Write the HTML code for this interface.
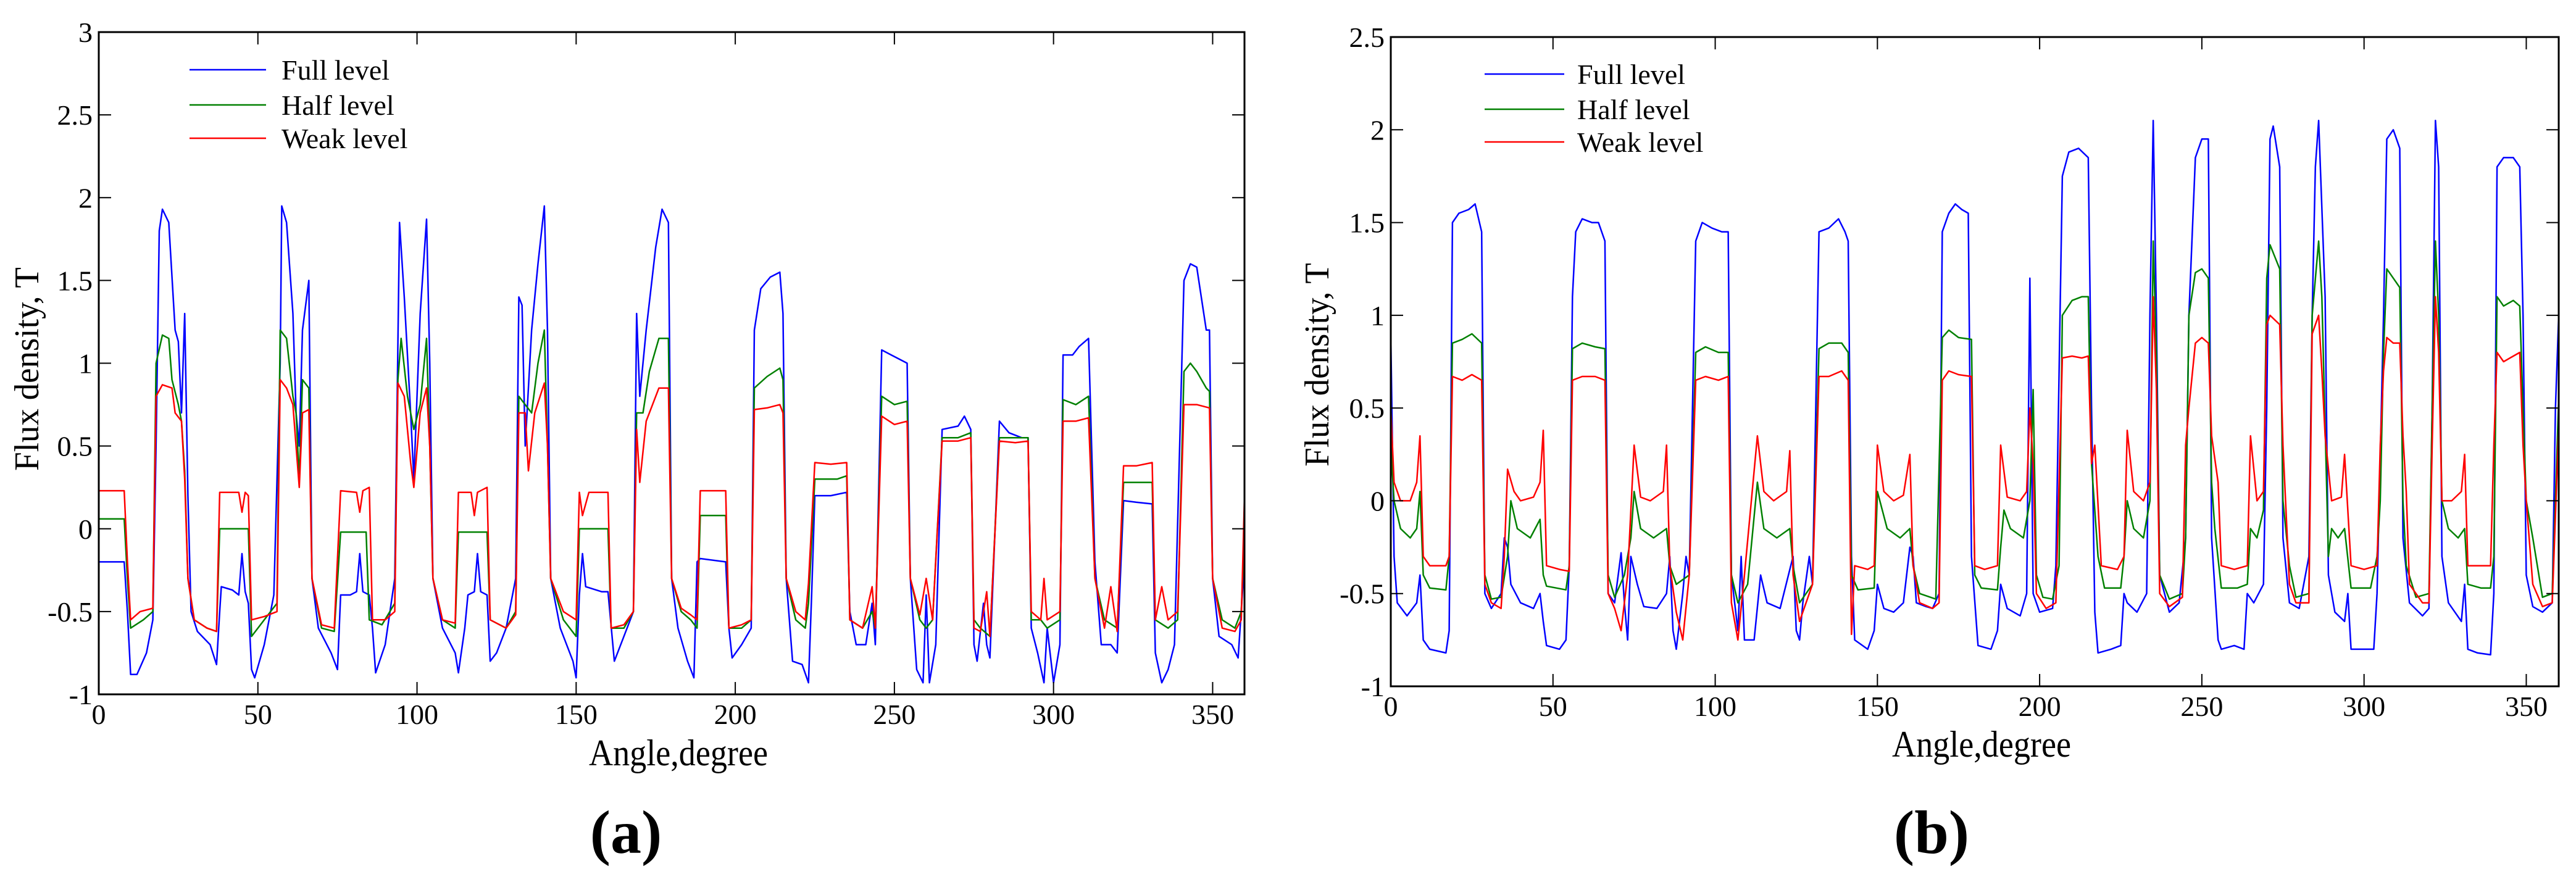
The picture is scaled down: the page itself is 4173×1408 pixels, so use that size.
<!DOCTYPE html>
<html><head><meta charset="utf-8"><style>
html,body{margin:0;padding:0;background:#fff;}
svg{display:block;}
text{font-family:"Liberation Serif","DejaVu Serif",serif;fill:#000;}
</style></head><body>
<svg id="fig" width="4173" height="1408" viewBox="0 0 4173 1408" xmlns="http://www.w3.org/2000/svg" font-family="Liberation Serif, serif">
<rect width="4173" height="1408" fill="#fff"/>
<g id="chartA"></g>
<g id="chartB"></g>
</svg>
<script>
const legendLabels = ["Full level","Half level","Weak level"];
const seriesColors = ["#0000ff","#008000","#ff0000"];
const xTicks = [0,50,100,150,200,250,300,350];
const yTicksA = [-1,-0.5,0,0.5,1,1.5,2,2.5,3];
const yTickLabelsA = ["-1","-0.5","0","0.5","1","1.5","2","2.5","3"];
const yTicksB = [-1,-0.5,0,0.5,1,1.5,2,2.5];
const yTickLabelsB = ["-1","-0.5","0","0.5","1","1.5","2","2.5"];

const fullA = [[0,-0.2],[8,-0.2],[9,-0.5],[10,-0.88],[12,-0.88],[15,-0.75],[17,-0.55],[18,0.5],[19,1.8],[20,1.93],[22,1.85],[24,1.2],[25,1.13],[26,0.7],[27,1.3],[28,0.2],[29,-0.5],[31,-0.62],[35,-0.7],[37,-0.82],[38,-0.5],[38.5,-0.35],[42,-0.37],[44,-0.4],[45,-0.15],[46,-0.38],[47,-0.45],[48,-0.85],[49,-0.9],[52,-0.7],[55,-0.4],[57,1.0],[57.5,1.95],[59,1.85],[61,1.3],[62,0.7],[63,0.5],[64,1.2],[66,1.5],[67,-0.3],[69,-0.6],[73,-0.75],[75,-0.85],[76,-0.4],[79,-0.4],[81,-0.38],[82,-0.15],[83,-0.38],[85,-0.4],[86,-0.6],[87,-0.87],[90,-0.7],[93,-0.3],[94.5,1.85],[96,1.4],[98,0.7],[99,0.3],[101,1.3],[103,1.87],[104,1.0],[105,-0.3],[108,-0.6],[112,-0.75],[113,-0.87],[115,-0.6],[116,-0.4],[118,-0.38],[119,-0.15],[120,-0.38],[122,-0.4],[123,-0.8],[125,-0.75],[128,-0.6],[131,-0.3],[132,1.4],[133,1.35],[134,0.5],[136,1.2],[138,1.6],[140,1.95],[141,1.2],[142,-0.3],[145,-0.6],[149,-0.8],[150,-0.9],[151,-0.4],[152,-0.15],[153,-0.35],[158,-0.38],[160,-0.38],[162,-0.8],[165,-0.65],[168,-0.5],[169,1.3],[170,0.8],[172,1.2],[175,1.7],[177,1.93],[179,1.85],[180,-0.3],[182,-0.6],[185,-0.8],[187,-0.9],[188,-0.2],[189,-0.18],[197,-0.2],[198,-0.6],[199,-0.78],[202,-0.7],[205,-0.6],[206,1.2],[208,1.45],[211,1.52],[214,1.55],[215,1.3],[216,-0.3],[218,-0.8],[221,-0.82],[223,-0.93],[224,-0.4],[225,0.2],[230,0.2],[235,0.22],[236,-0.5],[238,-0.7],[241,-0.7],[243,-0.45],[244,-0.7],[246,1.08],[249,1.05],[252,1.02],[254,1.0],[255,-0.3],[257,-0.85],[259,-0.93],[260,-0.4],[261,-0.93],[263,-0.7],[265,0.6],[270,0.62],[272,0.68],[274,0.6],[275,-0.7],[276,-0.8],[278,-0.45],[279,-0.7],[280,-0.78],[283,0.65],[286,0.58],[290,0.55],[292,0.55],[293,-0.6],[295,-0.75],[297,-0.93],[298,-0.6],[300,-0.93],[302,-0.7],[303,1.05],[306,1.05],[308,1.1],[311,1.15],[313,-0.2],[315,-0.7],[318,-0.7],[320,-0.75],[322,0.17],[326,0.16],[331,0.15],[332,-0.75],[334,-0.93],[336,-0.85],[338,-0.7],[341,1.5],[343,1.6],[345,1.58],[348,1.2],[349,1.2],[350,-0.3],[352,-0.65],[356,-0.7],[358,-0.78],[360,-0.2]];
const halfA = [[0,0.06],[8,0.06],[9,-0.3],[10,-0.6],[14,-0.55],[17,-0.5],[18,1.0],[20,1.17],[22,1.15],[23,0.9],[25,0.75],[26,0.65],[27,0.35],[28,-0.3],[30,-0.55],[34,-0.6],[37,-0.62],[38,0.0],[42,0.0],[47,0.0],[48,-0.65],[52,-0.55],[56,-0.45],[57,1.2],[59,1.15],[61,0.8],[62,0.7],[63,0.3],[64,0.9],[66,0.85],[67,-0.3],[70,-0.6],[74,-0.62],[76,-0.02],[84,-0.02],[85,-0.55],[89,-0.58],[93,-0.45],[94,0.9],[95,1.15],[97,0.8],[99,0.6],[101,0.75],[103,1.15],[104,0.5],[105,-0.3],[108,-0.55],[112,-0.6],[113,-0.02],[118,-0.02],[122,-0.02],[123,-0.55],[128,-0.6],[131,-0.5],[132,0.8],[134,0.75],[136,0.7],[138,1.0],[140,1.2],[141,0.5],[142,-0.3],[146,-0.55],[150,-0.65],[151,0.0],[160,0.0],[161,-0.6],[165,-0.6],[168,-0.5],[169,0.7],[171,0.7],[173,0.95],[176,1.15],[179,1.15],[180,-0.3],[183,-0.5],[186,-0.55],[188,-0.6],[189,0.08],[197,0.08],[198,-0.6],[202,-0.6],[205,-0.55],[206,0.85],[210,0.92],[214,0.97],[215,0.9],[216,-0.3],[219,-0.55],[222,-0.6],[223,-0.45],[225,0.3],[232,0.3],[235,0.32],[236,-0.55],[240,-0.6],[243,-0.5],[244,-0.6],[246,0.8],[250,0.75],[254,0.77],[255,-0.3],[258,-0.55],[260,-0.6],[262,-0.55],[265,0.55],[270,0.55],[274,0.58],[275,-0.55],[277,-0.6],[280,-0.65],[283,0.55],[288,0.55],[292,0.55],[293,-0.55],[296,-0.55],[298,-0.6],[302,-0.55],[303,0.78],[307,0.75],[311,0.8],[313,-0.3],[316,-0.55],[320,-0.6],[322,0.28],[326,0.28],[331,0.28],[332,-0.55],[336,-0.6],[339,-0.55],[341,0.95],[343,1.0],[345,0.95],[348,0.85],[349,0.83],[350,-0.3],[353,-0.55],[357,-0.6],[359,-0.5],[360,0.0]];
const weakA = [[0,0.23],[8,0.23],[9,-0.2],[10,-0.55],[13,-0.5],[17,-0.48],[18,0.8],[20,0.87],[23,0.85],[24,0.7],[26,0.65],[27,0.3],[28,-0.3],[30,-0.55],[34,-0.6],[37,-0.62],[38,0.22],[44,0.22],[45,0.1],[46,0.22],[47,0.2],[48,-0.55],[52,-0.53],[56,-0.5],[57,0.9],[59,0.85],[61,0.75],[62,0.5],[63,0.25],[64,0.7],[66,0.72],[67,-0.3],[70,-0.58],[74,-0.6],[76,0.23],[81,0.22],[82,0.1],[83,0.23],[85,0.25],[86,-0.55],[90,-0.55],[93,-0.5],[94,0.88],[96,0.8],[98,0.4],[99,0.25],[101,0.7],[103,0.85],[104,0.5],[105,-0.3],[108,-0.55],[112,-0.57],[113,0.22],[117,0.22],[118,0.08],[119,0.22],[122,0.25],[123,-0.55],[128,-0.6],[131,-0.52],[132,0.7],[134,0.7],[135,0.35],[137,0.7],[140,0.88],[141,0.5],[142,-0.3],[146,-0.5],[150,-0.55],[151,0.22],[152,0.08],[154,0.22],[160,0.22],[161,-0.6],[165,-0.58],[168,-0.5],[169,0.6],[170,0.28],[172,0.65],[176,0.85],[179,0.85],[180,-0.3],[183,-0.48],[186,-0.52],[188,-0.55],[189,0.23],[197,0.23],[198,-0.6],[202,-0.58],[205,-0.55],[206,0.72],[210,0.73],[214,0.75],[215,0.7],[216,-0.3],[219,-0.5],[222,-0.55],[223,-0.33],[225,0.4],[230,0.39],[235,0.4],[236,-0.55],[240,-0.6],[243,-0.35],[244,-0.6],[246,0.68],[250,0.63],[254,0.65],[255,-0.3],[258,-0.52],[260,-0.3],[262,-0.55],[265,0.53],[270,0.53],[274,0.55],[275,-0.6],[277,-0.62],[279,-0.38],[280,-0.65],[283,0.53],[288,0.52],[292,0.53],[293,-0.5],[296,-0.55],[297,-0.3],[298,-0.55],[302,-0.5],[303,0.65],[307,0.65],[311,0.67],[313,-0.3],[316,-0.6],[318,-0.35],[320,-0.62],[322,0.38],[326,0.38],[331,0.4],[332,-0.55],[334,-0.35],[336,-0.55],[339,-0.5],[341,0.75],[345,0.75],[349,0.73],[350,-0.3],[353,-0.6],[357,-0.62],[359,-0.55],[360,0.2]];

const fullB = [[0,0.9],[1,-0.3],[2,-0.55],[5,-0.62],[8,-0.55],[9,-0.4],[10,-0.75],[12,-0.8],[17,-0.82],[18,-0.7],[19,1.5],[21,1.55],[24,1.57],[26,1.6],[28,1.45],[29,-0.5],[31,-0.58],[34,-0.5],[35,-0.2],[36,-0.25],[37,-0.45],[40,-0.55],[44,-0.58],[46,-0.5],[47,-0.65],[48,-0.78],[52,-0.8],[54,-0.75],[55,-0.35],[56,1.1],[57,1.45],[59,1.52],[62,1.5],[64,1.5],[66,1.4],[67,-0.5],[69,-0.55],[71,-0.28],[72,-0.55],[73,-0.75],[74,-0.3],[76,-0.45],[78,-0.57],[82,-0.58],[85,-0.5],[86,-0.3],[87,-0.7],[88,-0.8],[90,-0.5],[91,-0.3],[92,-0.4],[94,1.4],[96,1.5],[99,1.47],[102,1.45],[104,1.45],[105,-0.4],[107,-0.7],[108,-0.3],[109,-0.75],[112,-0.75],[114,-0.4],[116,-0.55],[120,-0.58],[124,-0.3],[125,-0.7],[126,-0.75],[127,-0.55],[129,-0.3],[130,-0.45],[132,1.45],[135,1.47],[138,1.52],[140,1.45],[141,1.4],[142,-0.3],[143,-0.75],[147,-0.8],[149,-0.7],[150,-0.45],[152,-0.58],[155,-0.6],[158,-0.55],[160,-0.25],[161,-0.3],[162,-0.55],[165,-0.57],[167,-0.58],[169,-0.5],[170,1.45],[172,1.55],[174,1.6],[176,1.57],[178,1.55],[179,-0.3],[181,-0.78],[185,-0.8],[187,-0.7],[188,-0.45],[190,-0.58],[194,-0.62],[196,-0.5],[197,1.2],[198,-0.5],[200,-0.6],[204,-0.58],[205,-0.35],[207,1.75],[209,1.88],[212,1.9],[215,1.85],[216,0.5],[217,-0.6],[218,-0.82],[222,-0.8],[225,-0.78],[226,-0.5],[227,-0.55],[230,-0.6],[233,-0.5],[234,1.0],[235,2.05],[236,1.0],[237,-0.4],[240,-0.6],[243,-0.55],[245,-0.2],[246,1.0],[248,1.85],[250,1.95],[252,1.95],[253,-0.2],[255,-0.75],[256,-0.8],[260,-0.78],[263,-0.8],[264,-0.5],[266,-0.55],[269,-0.45],[270,0.5],[271,1.95],[272,2.02],[274,1.8],[275,-0.2],[277,-0.55],[280,-0.58],[283,-0.3],[284,1.0],[285,1.8],[286,2.05],[288,1.1],[289,-0.4],[291,-0.6],[294,-0.65],[295,-0.5],[296,-0.8],[300,-0.8],[303,-0.8],[304,-0.5],[306,1.0],[307,1.95],[309,2.0],[311,1.9],[312,-0.2],[314,-0.55],[318,-0.62],[320,-0.58],[321,0.5],[322,2.05],[323,1.8],[324,-0.3],[326,-0.55],[330,-0.65],[331,-0.45],[332,-0.8],[335,-0.82],[339,-0.83],[340,-0.5],[341,1.8],[343,1.85],[346,1.85],[348,1.8],[349,1.0],[350,-0.4],[352,-0.57],[355,-0.6],[358,-0.55],[359,0.5],[360,1.0]];
const halfB = [[0,0.3],[1,0.0],[3,-0.15],[6,-0.2],[8,-0.15],[9,0.05],[10,-0.4],[12,-0.47],[17,-0.48],[18,-0.3],[19,0.85],[22,0.87],[25,0.9],[28,0.85],[29,-0.4],[31,-0.53],[34,-0.52],[36,-0.3],[37,0.0],[39,-0.15],[43,-0.2],[46,-0.1],[47,-0.4],[48,-0.46],[54,-0.48],[55,-0.35],[56,0.82],[59,0.85],[63,0.83],[66,0.82],[67,-0.4],[69,-0.52],[72,-0.4],[74,-0.2],[75,0.05],[77,-0.15],[81,-0.2],[85,-0.15],[86,-0.35],[88,-0.45],[92,-0.4],[94,0.8],[97,0.83],[101,0.8],[104,0.8],[105,-0.4],[107,-0.55],[110,-0.45],[113,0.1],[115,-0.15],[119,-0.2],[123,-0.15],[124,-0.35],[126,-0.55],[130,-0.45],[132,0.82],[135,0.85],[139,0.85],[141,0.8],[142,-0.4],[144,-0.48],[149,-0.47],[150,0.05],[153,-0.15],[157,-0.2],[160,-0.15],[161,-0.35],[163,-0.5],[168,-0.53],[170,0.88],[172,0.92],[175,0.88],[179,0.87],[180,-0.4],[182,-0.47],[187,-0.48],[188,-0.25],[189,-0.05],[191,-0.15],[195,-0.2],[197,0.0],[198,0.6],[199,-0.4],[201,-0.52],[204,-0.53],[206,-0.35],[207,1.0],[210,1.08],[213,1.1],[215,1.1],[216,0.2],[218,-0.3],[220,-0.47],[225,-0.47],[226,-0.3],[227,0.0],[229,-0.15],[232,-0.2],[234,0.0],[235,1.4],[236,0.8],[237,-0.4],[240,-0.53],[244,-0.5],[245,-0.2],[246,1.0],[248,1.23],[250,1.25],[252,1.2],[253,0.1],[254,-0.15],[256,-0.47],[261,-0.47],[264,-0.45],[265,-0.15],[267,-0.2],[269,-0.05],[270,1.2],[271,1.38],[274,1.25],[275,0.0],[277,-0.35],[279,-0.52],[283,-0.5],[284,1.0],[286,1.4],[287,1.1],[289,-0.3],[290,-0.15],[292,-0.2],[294,-0.15],[296,-0.47],[302,-0.47],[304,-0.3],[305,0.0],[306,0.8],[307,1.25],[309,1.2],[311,1.15],[312,0.0],[313,-0.35],[316,-0.52],[320,-0.5],[321,0.5],[322,1.4],[323,1.0],[324,0.0],[326,-0.15],[329,-0.2],[331,-0.15],[332,-0.45],[336,-0.47],[339,-0.47],[340,-0.3],[341,1.1],[343,1.05],[346,1.08],[348,1.05],[349,0.5],[350,0.0],[352,-0.2],[355,-0.52],[358,-0.5],[360,0.55]];
const weakB = [[0,0.5],[1,0.1],[3,0.0],[6,0.0],[8,0.1],[9,0.35],[10,-0.3],[12,-0.35],[17,-0.35],[18,-0.3],[19,0.67],[22,0.65],[25,0.68],[28,0.65],[29,-0.45],[31,-0.55],[34,-0.58],[35,-0.3],[36,0.17],[38,0.05],[40,0.0],[44,0.02],[46,0.1],[47,0.38],[48,-0.35],[52,-0.37],[55,-0.38],[56,0.65],[59,0.67],[63,0.67],[66,0.65],[67,-0.5],[69,-0.58],[71,-0.7],[73,-0.4],[75,0.3],[77,0.02],[80,0.0],[84,0.05],[85,0.3],[86,-0.35],[88,-0.6],[90,-0.75],[92,-0.4],[94,0.65],[97,0.67],[101,0.65],[104,0.67],[105,-0.55],[107,-0.75],[109,-0.4],[113,0.35],[115,0.05],[118,0.0],[122,0.05],[123,0.27],[124,-0.4],[126,-0.65],[130,-0.45],[132,0.67],[135,0.67],[139,0.7],[141,0.65],[142,-0.72],[143,-0.35],[147,-0.37],[149,-0.35],[150,0.3],[152,0.05],[155,0.0],[158,0.03],[160,0.25],[161,-0.35],[163,-0.55],[167,-0.58],[169,-0.55],[170,0.65],[172,0.7],[175,0.68],[179,0.67],[180,-0.35],[183,-0.37],[187,-0.35],[188,0.3],[190,0.02],[194,0.0],[196,0.05],[197,0.5],[198,0.2],[199,-0.5],[202,-0.58],[205,-0.55],[207,0.77],[210,0.78],[213,0.77],[215,0.78],[216,0.2],[217,0.3],[219,-0.35],[224,-0.37],[226,-0.3],[227,0.38],[229,0.05],[232,0.0],[234,0.1],[235,1.1],[236,0.6],[237,-0.5],[240,-0.57],[244,-0.52],[245,0.3],[246,0.5],[248,0.85],[250,0.88],[252,0.85],[253,0.35],[255,0.1],[256,-0.35],[260,-0.37],[264,-0.35],[265,0.35],[267,0.0],[269,0.05],[270,0.95],[271,1.0],[274,0.95],[275,0.3],[277,-0.45],[279,-0.55],[283,-0.55],[284,0.9],[286,1.0],[287,0.7],[288,0.35],[290,0.0],[293,0.02],[294,0.25],[296,-0.35],[300,-0.37],[304,-0.35],[305,0.3],[306,0.7],[307,0.88],[309,0.85],[311,0.85],[312,0.35],[313,0.05],[314,-0.45],[318,-0.55],[320,-0.55],[321,0.3],[322,1.1],[323,0.8],[324,0.0],[327,0.0],[330,0.05],[331,0.25],[332,-0.35],[336,-0.35],[339,-0.35],[340,0.3],[341,0.8],[343,0.75],[346,0.78],[348,0.8],[349,0.3],[350,0.0],[352,-0.45],[355,-0.57],[358,-0.55],[360,0.4]];

const NS = "http://www.w3.org/2000/svg";
const FONT = "Liberation Serif, DejaVu Serif, serif";
function mk(tag, attrs, parent){
  const e = document.createElementNS(NS, tag);
  for (const k in attrs) e.setAttribute(k, attrs[k]);
  if (tag === "text") e.setAttribute("font-family", FONT);
  parent.appendChild(e);
  return e;
}
function drawChart(g, cfg){
  const sx = v => cfg.left + (v - 0) / 360 * (cfg.right - cfg.left);
  const sy = v => cfg.bottom - (v - cfg.ymin) / (cfg.ymax - cfg.ymin) * (cfg.bottom - cfg.top);
  const plot = mk("g", {}, g);
  
  
  cfg.series.forEach((s, i) => {
    const d = s.map((p, j) => (j ? "L" : "M") + sx(p[0]).toFixed(1) + " " + sy(p[1]).toFixed(1)).join(" ");
    const path = mk("path", {d: d, fill: "none", stroke: seriesColors[i], "stroke-width": 2.5, "stroke-linejoin": "round"}, plot);
    
    
  });
  const frame = mk("rect", {x: cfg.left, y: cfg.top, width: cfg.right - cfg.left, height: cfg.bottom - cfg.top, fill: "none", stroke: "#000", "stroke-width": 3}, g);
  
  
  xTicks.forEach(t => {
    const x = sx(t);
    mk("line", {x1: x, y1: cfg.bottom, x2: x, y2: cfg.bottom - 20, stroke: "#000", "stroke-width": 2}, g);
    mk("line", {x1: x, y1: cfg.top, x2: x, y2: cfg.top + 20, stroke: "#000", "stroke-width": 2}, g);
    const lb = mk("text", {x: x, y: cfg.bottom + cfg.xLabOff, "text-anchor": "middle", "font-size": 46}, g);
    lb.textContent = String(t);
    
    
  });
  cfg.yTicks.forEach((t, i) => {
    const y = sy(t);
    mk("line", {x1: cfg.left, y1: y, x2: cfg.left + 20, y2: y, stroke: "#000", "stroke-width": 2}, g);
    mk("line", {x1: cfg.right, y1: y, x2: cfg.right - 20, y2: y, stroke: "#000", "stroke-width": 2}, g);
    const lb = mk("text", {x: cfg.left - 10, y: y + 16, "text-anchor": "end", "font-size": 46}, g);
    lb.textContent = cfg.yLabels[i];
    
    
  });
  const xt = mk("text", {x: cfg.xTitleX, y: cfg.xTitleY, "text-anchor": "middle", "font-size": 60, textLength: 290, lengthAdjust: "spacingAndGlyphs"}, g);
  xt.textContent = "Angle,degree";
  
  
  const yt = mk("text", {x: 0, y: 0, "text-anchor": "middle", "font-size": 56, textLength: 330, lengthAdjust: "spacingAndGlyphs", transform: "translate(" + cfg.yTitleX + "," + cfg.yTitleY + ") rotate(-90)"}, g);
  yt.textContent = "Flux density, T";
  
  
  legendLabels.forEach((l, i) => {
    const y = cfg.legY[i];
    const ent = mk("g", {}, g);
    
    
    mk("line", {x1: cfg.legX1, y1: y, x2: cfg.legX2, y2: y, stroke: seriesColors[i], "stroke-width": 2.5}, ent);
    const t = mk("text", {x: cfg.legTX, y: y + 16, "font-size": 46}, ent);
    t.textContent = l;
  });
  const cap = mk("text", {x: cfg.capX, y: 1382, "text-anchor": "middle", "font-size": 100, "font-weight": "bold"}, g);
  cap.textContent = cfg.cap;
  
  
}
drawChart(document.getElementById("chartA"), {
  left: 160, right: 2016, top: 52, bottom: 1125, ymin: -1, ymax: 3,
  yTicks: yTicksA, yLabels: yTickLabelsA, series: [fullA, halfA, weakA],
  xLabOff: 48, xTitleX: 1099, xTitleY: 1240, yTitleX: 62, yTitleY: 598,
  legY: [113, 170, 224], legX1: 307, legX2: 431, legTX: 456, cap: "(a)", capX: 1014
});
drawChart(document.getElementById("chartB"), {
  left: 2253, right: 4145, top: 60, bottom: 1112, ymin: -1, ymax: 2.5,
  yTicks: yTicksB, yLabels: yTickLabelsB, series: [fullB, halfB, weakB],
  xLabOff: 48, xTitleX: 3210, xTitleY: 1226, yTitleX: 2152, yTitleY: 591,
  legY: [120, 177, 230], legX1: 2405, legX2: 2534, legTX: 2555, cap: "(b)", capX: 3129
});
</script>
</body></html>
